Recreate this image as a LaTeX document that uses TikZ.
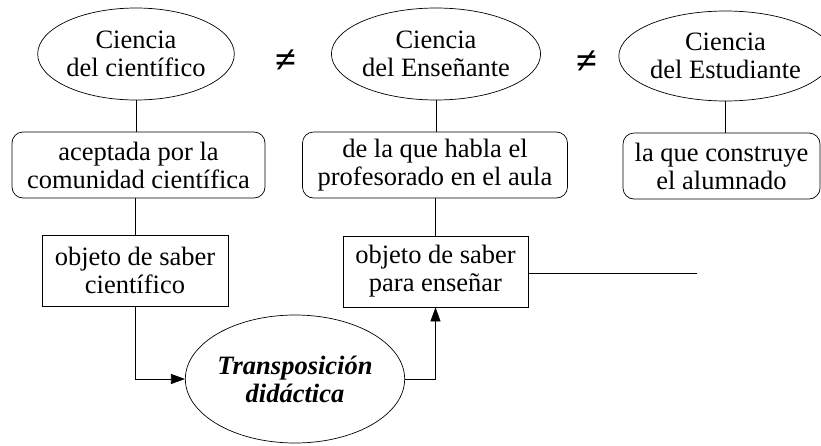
\documentclass[tikz,border=0pt]{standalone}
\usepackage{fontspec}
\setmainfont{Liberation Serif}
\usetikzlibrary{shapes.geometric,arrows.meta}
\begin{document}
\begin{tikzpicture}[x=1pt,y=-1pt,
  every node/.style={font=\fontsize{26.5}{28}\selectfont, align=center, inner sep=0pt},
  oval/.style={draw, ellipse, line width=0.7pt},
  rbox/.style={draw, rounded corners=11pt, line width=0.7pt, minimum height=66pt},
  sbox/.style={draw, line width=0.7pt, minimum height=71pt},
  neq/.style={font=\fontsize{38}{38}\selectfont\bfseries},
  conn/.style={line width=0.7pt},
  arr/.style={line width=0.7pt, -{Triangle[length=14pt,width=10pt]}}]
\useasboundingbox (0,0) rectangle (821,445);
\node[oval, minimum width=192pt, minimum height=92pt] (e1) at (136,54) {Ciencia\\del científico};
\node[oval, minimum width=192pt, minimum height=92pt] (e2) at (436,54) {Ciencia\\del Enseñante};
\node[oval, minimum width=189pt, minimum height=90pt] (e3) at (725.5,56) {Ciencia\\del Estudiante};
\node[neq] (n1) at (286,61) {≠};
\node[neq] (n2) at (587,62) {≠};
\node[rbox, minimum width=253pt] (b1) at (138.5,165) {aceptada por la\\comunidad científica};
\node[rbox, minimum width=265pt] (b2) at (435,165) {de la que habla el\\profesorado en el aula};
\node[rbox, minimum width=197pt] (b3) at (721.5,166) {la que construye\\el alumnado};
\node[sbox, minimum width=186pt] (r1) at (135,270.5) {objeto de saber\\científico};
\node[sbox, minimum width=185pt] (r2) at (435.5,271.5) {objeto de saber\\para enseñar};
\node[oval, minimum width=204pt, minimum height=128pt, font=\fontsize{26.5}{28}\selectfont\bfseries\itshape] (t) at (295,379) {Transposición\\didáctica};
\coordinate (tail) at (697,273);
\draw[conn] (e1.south) -- (e1.south |- b1.north);
\draw[conn] (e2.south) -- (e2.south |- b2.north);
\draw[conn] (e3.south) -- (e3.south |- b3.north);
\draw[conn] (b1.south -| r1.south) -- (r1.north);
\draw[conn] (b2.south -| r2.south) -- (r2.north);
\draw[conn] (r2.east |- tail) -- (tail);
\draw[arr] (r1.south) |- (t.west);
\draw[arr] (t.east) -| (r2.south);
\end{tikzpicture}
\end{document}
